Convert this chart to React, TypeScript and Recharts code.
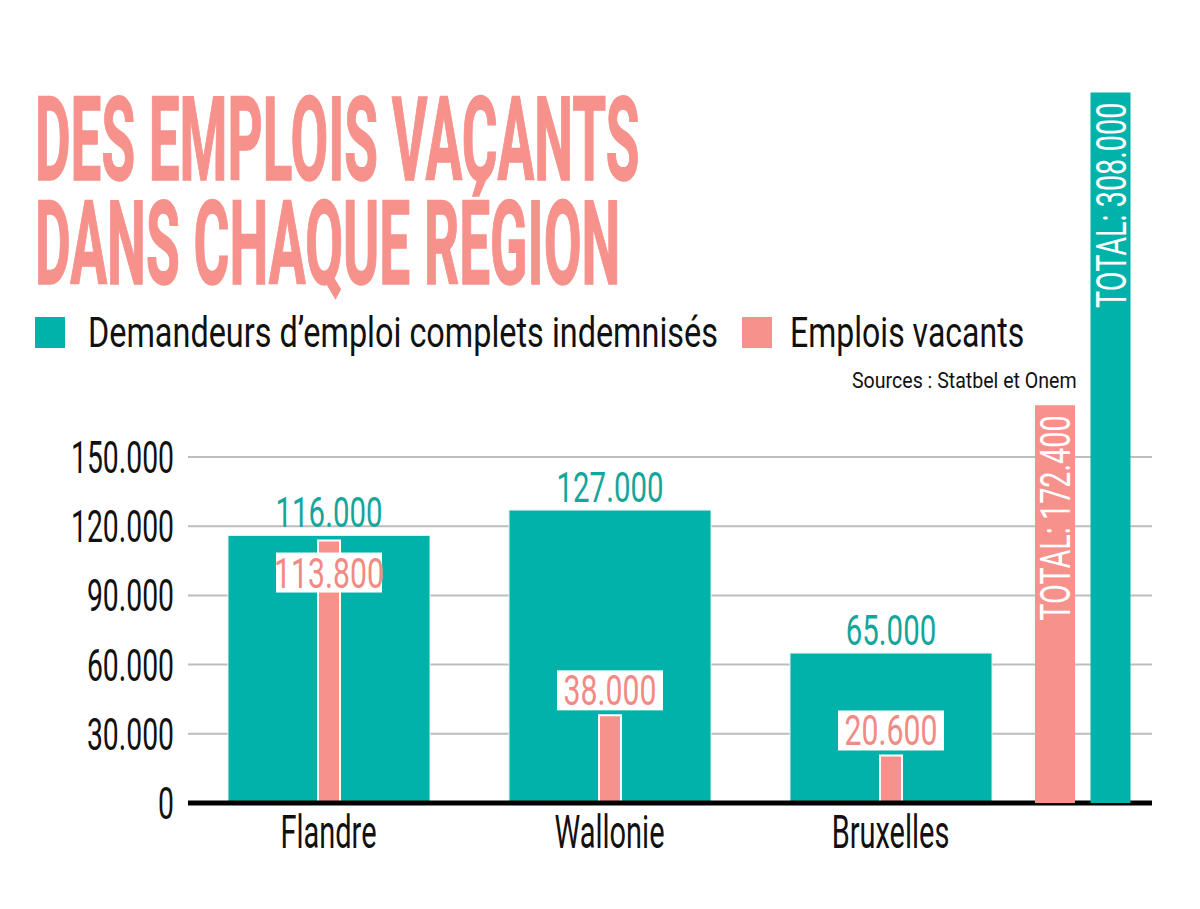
import { BarChart, Bar, XAxis, YAxis, CartesianGrid, ReferenceLine, LabelList, Cell } from "recharts";

const regions = ["Flandre", "Wallonie", "Bruxelles"];
const demandeurs = [116000, 127000, 65000];
const vacants = [113800, 38000, 20600];
const totalKeys = ["Emplois vacants", "Demandeurs d’emploi complets indemnisés"];
const totals = [172400, 308000];
const yTicks = [0, 30000, 60000, 90000, 120000, 150000];

const TEAL = "#00B2A9";
const TEAL_TEXT = "#14A59B";
const PINK = "#F7918B";
const PINK_TEXT = "#F28A84";
const FONT = "Roboto, sans-serif";

const W = 1200;
const H = 909;
const Y_MAX = 310000;

const regionData = regions.map((region, i) => ({ region, demandeurs: demandeurs[i], vacants: vacants[i] }));
const totalData = totalKeys.map((key, i) => ({ key, value: totals[i] }));
const totalColors = [PINK, TEAL];

// 116000 -> "116.000"
const fmt = (v: number) => String(v).replace(/\B(?=(\d{3})+(?!\d))/g, ".");

// condensed look: squeeze a normal font horizontally around its anchor
function Squeezed({ x, y, sx = 0.66, size, anchor = "middle", fill = "#111", weight = 400, rotate = 0, stroke, strokeWidth, children }: any) {
  return (
    <text
      transform={`translate(${x},${y})${rotate ? ` rotate(${rotate})` : ""} scale(${sx},1)`}
      x={0}
      y={0}
      textAnchor={anchor}
      fontFamily={FONT}
      fontSize={size}
      fontWeight={weight}
      fill={fill}
      stroke={stroke}
      strokeWidth={strokeWidth}
    >
      {children}
    </text>
  );
}

function YTick({ x, y, payload }: any) {
  return (
    <Squeezed x={x} y={y + 16} size={45} sx={0.63} anchor="end">
      {fmt(payload.value)}
    </Squeezed>
  );
}

function XTick({ x, y, payload }: any) {
  return (
    <Squeezed x={x} y={y + 37} size={46} sx={0.63}>
      {payload.value}
    </Squeezed>
  );
}

function TealLabel({ x, y, width, value }: any) {
  return (
    <Squeezed x={x + width / 2} y={y - 8} size={42} sx={0.7} fill={TEAL_TEXT}>
      {fmt(value)}
    </Squeezed>
  );
}

function PinkLabel({ x, y, width, value, index }: any) {
  const boxW = 106;
  const boxH = 40;
  // when the vacancy bar almost reaches the teal top, the box goes inside the bar
  const inside = value >= demandeurs[index] * 0.9;
  const top = inside ? y + 12 : y - 5 - boxH;
  const cx = x + width / 2;
  return (
    <g>
      <rect x={cx - boxW / 2} y={top} width={boxW} height={boxH} fill="#fff" />
      <Squeezed x={cx} y={top + 35} size={42} sx={0.72} fill={PINK_TEXT}>
        {fmt(value)}
      </Squeezed>
    </g>
  );
}

function TotalLabel({ x, y, width, value }: any) {
  return (
    <Squeezed x={x + width / 2 + 15} y={y + 10} size={43} sx={0.67} anchor="end" fill="#fff" rotate={-90}>
      {`TOTAL: ${fmt(value)}`}
    </Squeezed>
  );
}

function Header() {
  return (
    <svg width={W} height={H} style={{ position: "absolute", left: 0, top: 0 }}>
      <Squeezed x={35} y={180} size={117} sx={0.468} anchor="start" weight={700} fill={PINK} stroke={PINK} strokeWidth={1.5}>
        DES EMPLOIS VACANTS
      </Squeezed>
      <Squeezed x={35} y={284} size={117} sx={0.47} anchor="start" weight={700} fill={PINK} stroke={PINK} strokeWidth={1.5}>
        DANS CHAQUE RÉGION
      </Squeezed>
      <rect x={35} y={317} width={30} height={31} fill={TEAL} />
      <Squeezed x={88} y={347} size={42} sx={0.772} anchor="start">
        Demandeurs d’emploi complets indemnisés
      </Squeezed>
      <rect x={742} y={317} width={30} height={31} fill={PINK} />
      <Squeezed x={790} y={347} size={42} sx={0.763} anchor="start">
        Emplois vacants
      </Squeezed>
      <Squeezed x={852} y={388} size={22} sx={0.89} anchor="start">
        Sources : Statbel et Onem
      </Squeezed>
    </svg>
  );
}

export default function App() {
  return (
    <div style={{ position: "absolute", left: 0, top: 0, width: W, height: H, background: "#fff", overflow: "hidden" }}>
      <Header />
      <div style={{ position: "absolute", left: 0, top: 0 }}>
        <BarChart width={W} height={H} data={regionData} margin={{ top: 88, right: 48, bottom: 66, left: 0 }}>
          <CartesianGrid xAxisId="main" vertical={false} horizontalValues={yTicks} stroke="#bdbdbd" strokeWidth={2} />
          <YAxis
            domain={[0, Y_MAX]}
            ticks={yTicks}
            width={188}
            axisLine={false}
            tickLine={false}
            tickMargin={8}
            tick={<YTick />}
            interval={0}
          />
          <XAxis
            xAxisId="main"
            dataKey="region"
            height={40}
            axisLine={false}
            tickLine={false}
            padding={{ left: 0, right: 121 }}
            tick={<XTick />}
            interval={0}
          />
          <XAxis xAxisId="over" dataKey="region" hide padding={{ left: 0, right: 121 }} />
          <Bar xAxisId="main" dataKey="demandeurs" barSize={202} fill={TEAL} stroke="#dff3f1" strokeWidth={1} isAnimationActive={false}>
            <LabelList dataKey="demandeurs" content={<TealLabel />} />
          </Bar>
          <Bar xAxisId="over" dataKey="vacants" barSize={22} fill={PINK} stroke="#fff" strokeWidth={2} isAnimationActive={false}>
            <LabelList dataKey="vacants" content={<PinkLabel />} />
          </Bar>
          <ReferenceLine xAxisId="main" y={0} stroke="#000" strokeWidth={5} />
        </BarChart>
      </div>
      <div style={{ position: "absolute", left: 0, top: 0 }}>
        <BarChart width={W} height={H} data={totalData} margin={{ top: 88, right: 62, bottom: 106, left: 1027 }}>
          <YAxis hide domain={[0, Y_MAX]} />
          <XAxis hide dataKey="key" />
          <Bar dataKey="value" barSize={40} isAnimationActive={false}>
            {totalData.map((d, i) => (
              <Cell key={d.key} fill={totalColors[i]} />
            ))}
            <LabelList dataKey="value" content={<TotalLabel />} />
          </Bar>
        </BarChart>
      </div>
    </div>
  );
}
